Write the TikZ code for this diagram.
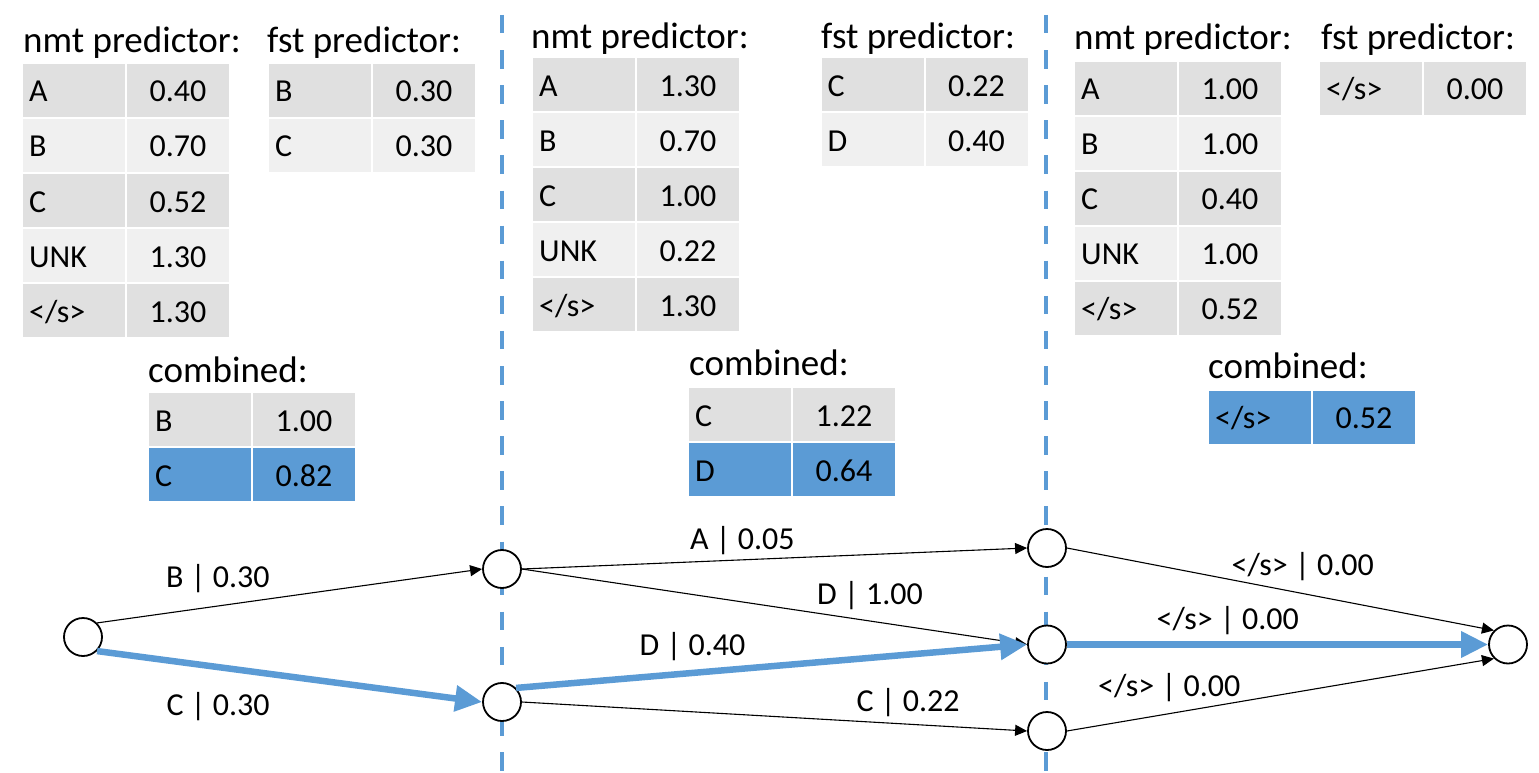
\documentclass[tikz,border=0pt]{standalone}
\usepackage{fontspec}
\setmainfont{Carlito}
\usetikzlibrary{arrows.meta}
\definecolor{myblue}{RGB}{91,155,213}
\definecolor{rowdark}{RGB}{224,224,224}
\definecolor{rowlight}{RGB}{240,240,240}
\tikzset{
 titletxt/.style={font=\fontsize{37}{44}\selectfont, anchor=base west, inner sep=0},
 celltxt/.style={font=\fontsize{32}{38}\selectfont, inner sep=0},
 cellbox/.style={anchor=north west, minimum width=102, minimum height=53, inner sep=0, outer sep=0, draw=none},
 lbl/.style={font=\fontsize{32}{38}\selectfont, anchor=base west, inner sep=0},
 state/.style={circle, draw=black, fill=white, line width=1.8pt, minimum size=38pt, inner sep=0},
 thinarrow/.style={draw=black, line width=1.1pt, -{Triangle[length=12pt,width=11pt]}},
 bestarrow/.style={draw=myblue, line width=6.5pt, -{Triangle[length=27pt,width=25pt]}},
 sepline/.style={draw=myblue, line width=4.5pt, dash pattern=on 18.5pt off 16.6pt},
}
\newcommand{\trow}[6]{%
 \node[cellbox, fill=#4] (#1a) at (#2,#3) {};
 \node[cellbox, fill=#4] (#1b) at (#2+104,#3) {};
 \node[celltxt, anchor=base west] (#1k) at (#2+6,#3+38) {#5};
 \node[celltxt, anchor=base] (#1v) at (#2+155,#3+38) {#6};
}
\begin{document}
\begin{tikzpicture}[x=1pt,y=-1pt]
\useasboundingbox (0,0) rectangle (1539,773);
% separators
\coordinate (s1t) at (502,15);
\coordinate (s1b) at (502,773);
\coordinate (s2t) at (1046,15);
\coordinate (s2b) at (1046,773);
\draw[sepline] (s1t) -- (s1b);
\draw[sepline] (s2t) -- (s2b);
% ---- left column
\node[titletxt] (t1n) at (23,53) {nmt predictor:};
\node[titletxt] (t1f) at (267,53) {fst predictor:};
\node[titletxt] (t1c) at (148,382) {combined:};
\trow{la1}{23}{64}{rowdark}{A}{0.40}
\trow{la2}{23}{119}{rowlight}{B}{0.70}
\trow{la3}{23}{174}{rowdark}{C}{0.52}
\trow{la4}{23}{229}{rowlight}{UNK}{1.30}
\trow{la5}{23}{284}{rowdark}{</s>}{1.30}
\trow{lf1}{269}{64}{rowdark}{B}{0.30}
\trow{lf2}{269}{119}{rowlight}{C}{0.30}
\trow{lc1}{149}{393}{rowdark}{B}{1.00}
\trow{lc2}{149}{448}{myblue}{C}{0.82}
% ---- middle column
\node[titletxt] (t2n) at (531,48.3) {nmt predictor:};
\node[titletxt] (t2f) at (821,48.3) {fst predictor:};
\node[titletxt] (t2c) at (689,375) {combined:};
\trow{ma1}{533}{58.3}{rowdark}{A}{1.30}
\trow{ma2}{533}{113.3}{rowlight}{B}{0.70}
\trow{ma3}{533}{168.3}{rowdark}{C}{1.00}
\trow{ma4}{533}{223.3}{rowlight}{UNK}{0.22}
\trow{ma5}{533}{278.3}{rowdark}{</s>}{1.30}
\trow{mf1}{821.5}{58.3}{rowdark}{C}{0.22}
\trow{mf2}{821.5}{113.3}{rowlight}{D}{0.40}
\trow{mc1}{689}{388.3}{rowdark}{C}{1.22}
\trow{mc2}{689}{443}{myblue}{D}{0.64}
% ---- right column
\node[titletxt] (t3n) at (1074,50) {nmt predictor:};
\node[titletxt] (t3f) at (1321,50) {fst predictor:};
\node[titletxt] (t3c) at (1208,378) {combined:};
\trow{ra1}{1075}{61.7}{rowdark}{A}{1.00}
\trow{ra2}{1075}{116.7}{rowlight}{B}{1.00}
\trow{ra3}{1075}{171.7}{rowdark}{C}{0.40}
\trow{ra4}{1075}{226.7}{rowlight}{UNK}{1.00}
\trow{ra5}{1075}{281.7}{rowdark}{</s>}{0.52}
\trow{rf1}{1320}{61.7}{rowdark}{</s>}{0.00}
\trow{rc1}{1209}{390.7}{myblue}{</s>}{0.52}
% ---- lattice states
\node[state] (n0) at (83,637) {};
\node[state] (n1) at (502,569) {};
\node[state] (n2) at (502,702) {};
\node[state] (m1) at (1047,548) {};
\node[state] (m2) at (1047,644.5) {};
\node[state] (m3) at (1047,731) {};
\node[state] (fin) at (1508,644.5) {};
% thin edges
\draw[thinarrow] (n0.north east) -- (n1.west);
\draw[thinarrow] (n1.east) -- (m1.west);
\draw[thinarrow] (n1.east) -- (m2.west);
\draw[thinarrow] (n2.east) -- (m3.west);
\draw[thinarrow] (m1.east) -- (fin.north west);
\draw[thinarrow] (m3.east) -- (fin.south west);
% best path
\draw[bestarrow] (n0.south east) -- (n2.west);
\draw[bestarrow] (n2.north east) -- (m2.west);
\draw[bestarrow] (m2.east) -- (fin.west);
% labels
\node[lbl] (l1) at (166,587.3) {B | 0.30};
\node[lbl] (l2) at (166.5,715) {C | 0.30};
\node[lbl] (l3) at (690,549) {A | 0.05};
\node[lbl] (l4) at (817,604.3) {D | 1.00};
\node[lbl] (l5) at (639.5,655) {D | 0.40};
\node[lbl] (l6) at (856.5,711.7) {C | 0.22};
\node[lbl] (l7) at (1231.5,575) {</s> | 0.00};
\node[lbl] (l8) at (1156.5,629.3) {</s> | 0.00};
\node[lbl] (l9) at (1098,696) {</s> | 0.00};
\end{tikzpicture}
\end{document}
